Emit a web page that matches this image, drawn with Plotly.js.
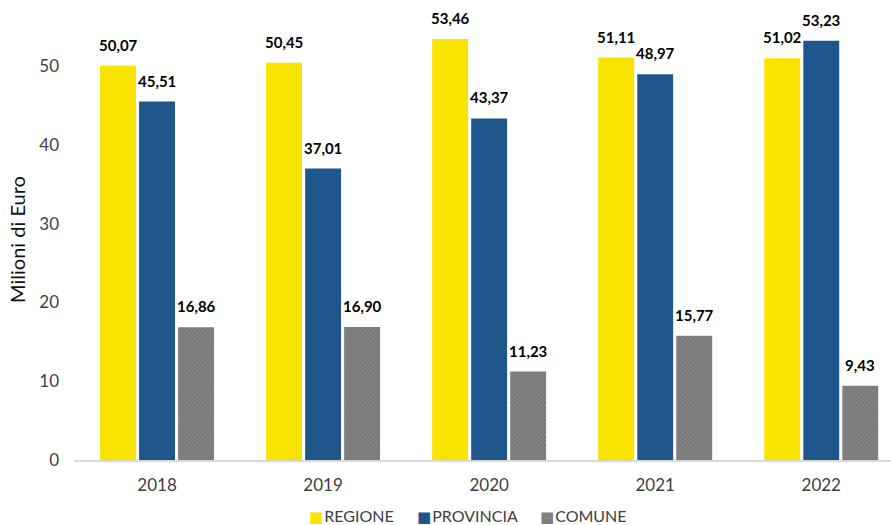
<!DOCTYPE html>
<html><head><meta charset="utf-8">
<script src="https://cdn.plot.ly/plotly-3.0.1.min.js"></script>
<style>body{margin:0;background:#fff}#chart{width:891px;height:525px}</style>
</head><body><div id="chart"></div>
<script>
const years = ['2018','2019','2020','2021','2022'];
const seriesNames = ['REGIONE','PROVINCIA','COMUNE'];
const regione = [50.07, 50.45, 53.46, 51.11, 51.02];
const provincia = [45.51, 37.01, 43.37, 48.97, 53.23];
const comune = [16.86, 16.90, 11.23, 15.77, 9.43];
const yTicks = [0,10,20,30,40,50];

const FONT = 'Lato, "Open Sans", sans-serif';
const colors = ['#F8E400', '#1F578C', '#7F7F7F'];
const series = [regione, provincia, comune];
function fmt(v){return v.toFixed(2).replace('.', ',');}

const data = series.map((vals, k) => {
  const m = {color: colors[k], line:{width:0}};
  if (k === 2) m.pattern = {shape:'x', size:3, solidity:0.3, fgcolor:'#959595', bgcolor:'#787878'};
  return {type:'bar', name:seriesNames[k], x:years, y:vals, marker:m, hoverinfo:'none', showlegend:false};
});

const annotations = [];
series.forEach((vals, k) => {
  vals.forEach((v, i) => {
    // category axis: annotation x is the category index
    annotations.push({x:i, y:v, xref:'x', yref:'y', text:'<b>'+fmt(v)+'</b>',
      showarrow:false, xanchor:'center', yanchor:'bottom', xshift:(k-1)*39, yshift:10,
      font:{family:FONT, size:15, color:'#000'}});
  });
});
// legend drawn as annotations
const legendX = [307, 415, 538];
seriesNames.forEach((n, k) => {
  annotations.push({xref:'paper', yref:'paper', x:(legendX[k]-74)/817, y:-(516-460)/441,
    xanchor:'left', yanchor:'middle', showarrow:false,
    text:'<span style="color:'+colors[k]+';font-size:15px;font-family:DejaVu Sans">■</span><span style="font-size:4px"> </span>'+n,
    font:{family:FONT, size:16, color:'#404040'}});
});

const layout = {
  width:891, height:525,
  margin:{l:74, r:0, t:19, b:65, autoexpand:false},
  paper_bgcolor:'#fff', plot_bgcolor:'#fff',
  barmode:'group', bargap:0.295, bargroupgap:0.08,
  font:{family:FONT, size:17, color:'#404040'},
  showlegend:false,
  annotations: annotations,
  xaxis:{type:'category', range:[-0.5, 4.42], showgrid:false, showline:true, linecolor:'#D9D9D9', linewidth:1.5,
         ticks:'', ticklabelstandoff:9, tickfont:{family:FONT, size:17, color:'#404040'}, fixedrange:true},
  yaxis:{range:[0,56], tickvals:yTicks, ticktext:yTicks.map(String), showgrid:false, zeroline:false, showline:false,
         ticks:'', ticklabelstandoff:14, tickfont:{family:FONT, size:17, color:'#404040'},
         title:{text:'Milioni di Euro', font:{family:FONT, size:20, color:'#111'}, standoff:8}}
};
Plotly.newPlot('chart', data, layout, {displayModeBar:false, staticPlot:true});
</script></body></html>
